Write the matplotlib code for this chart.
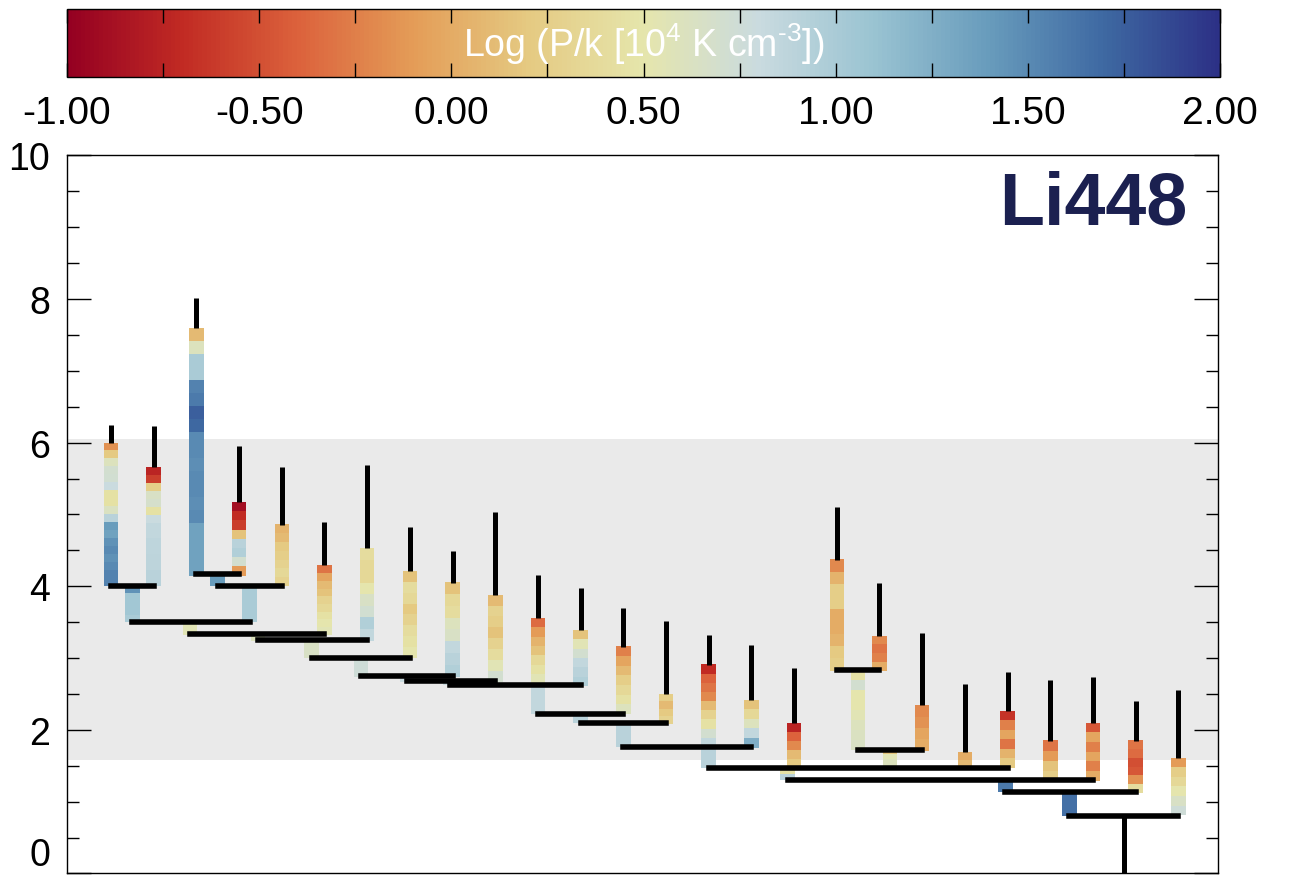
import numpy as np
import matplotlib
matplotlib.use('Agg')
import matplotlib.pyplot as plt
from matplotlib.colors import Normalize, ListedColormap
from matplotlib.ticker import MultipleLocator

plt.rcParams['font.family'] = ['Liberation Sans', 'DejaVu Sans']
plt.rcParams['mathtext.fontset'] = 'custom'
plt.rcParams['mathtext.rm'] = 'Liberation Sans'

# ---------------- data ----------------
# leaves: base (merge level), top of coloured part, top of black stem
leaf_base = [4.0, 4.0, 4.15, 4.15, 4.0, 3.32, 3.24, 3.0, 2.74, 2.67, 2.64, 2.61, 2.22,
             2.08, 1.76, 1.75, 1.47, 2.82, 2.82, 1.71, 1.47, 1.47, 1.29, 1.29, 1.12, 0.81]
leaf_ctop = [6.0, 5.66, 7.6, 5.17, 4.86, 4.29, 4.53, 4.21, 4.05, 3.88, 3.56, 3.39, 3.16,
             2.5, 2.91, 2.42, 2.1, 4.37, 3.31, 2.34, 1.69, 2.26, 1.85, 2.1, 1.85, 1.61]
leaf_top = [6.24, 6.23, 8.02, 5.95, 5.66, 4.89, 5.69, 4.82, 4.49, 5.04, 4.16, 3.98, 3.7,
            3.52, 3.32, 3.18, 2.86, 5.1, 4.05, 3.35, 2.64, 2.8, 2.69, 2.74, 2.4, 2.55]
# log P/k along each leaf, listed from top to bottom
leaf_logp = [
    [-0.15, 0.2, 0.6, 0.7, 0.72, 0.8, 0.45, 0.45, 0.62, 0.9, 1.4, 1.35, 1.45, 1.5, 1.45, 1.5, 1.55, 1.55],
    [-0.75, -0.6, 0.25, 0.65, 0.68, 0.45, 0.8, 0.85, 0.85, 0.87, 0.87, 0.88, 0.88, 0.9, 0.9],
    [0.1, 0.6, 1.0, 1.0, 1.55, 1.6, 1.75, 1.7, 1.5, 1.5, 1.48, 1.5, 1.5, 1.48, 1.5, 1.35, 1.35, 1.35, 1.35],
    [-0.9, -0.7, -0.6, 0.15, 0.9, 0.95, 0.7, -0.1],
    [0.05, 0.1, 0.2, 0.25, 0.3, 0.35, 0.3],
    [-0.3, -0.05, 0.1, 0.15, 0.3, 0.35, 0.45, 0.5, 0.55],
    [0.4, 0.35, 0.35, 0.5, 0.65, 0.72, 0.95, 0.85],
    [0.15, 0.4, 0.35, 0.2, 0.3, 0.4, 0.45, 0.5],
    [0.15, 0.35, 0.4, 0.6, 0.65, 0.85, 0.9, 0.95],
    [0.1, 0.3, 0.25, 0.15, 0.3, 0.4, 0.55, 0.7],
    [-0.35, -0.1, 0.05, 0.15, 0.35, 0.45, 0.55],
    [0.15, 0.55, 0.7, 0.85, 0.9, 0.95],
    [-0.25, -0.05, 0.1, 0.25, 0.35, 0.45, 0.6],
    [0.25, 0.1, 0.2, 0.3],
    [-0.7, -0.4, -0.3, -0.2, 0.1, 0.3, 0.45, 0.7, 0.85],
    [0.15, 0.35, 0.6, 0.85, 1.25],
    [-0.75, -0.4, -0.2, 0.1, 0.2],
    [-0.2, 0.05, 0.25, 0.25, 0.0, 0.0, 0.05, 0.2, 0.25],
    [-0.2, -0.3, -0.25, 0.0],
    [-0.2, -0.15, -0.05, 0.0],
    [0.0, 0.1],
    [-0.65, -0.25, -0.05, -0.3, 0.05, 0.2],
    [-0.3, -0.1, 0.15, 0.25],
    [-0.45, -0.05, -0.25, -0.05, -0.25, 0.0],
    [-0.3, -0.35, -0.5, -0.45, -0.15, 0.4],
    [-0.1, 0.25, 0.35, 0.5, 0.65, 0.75],
]

# branches: position (in leaf units), lower and upper level, log P/k top to bottom
branch_x = [0.5, 2.5, 3.25, 1.85, 3.44, 4.7, 5.86, 6.93, 7.95, 9.0, 10.0, 11.0, 12.0,
            13.0, 14.0, 17.5, 18.25, 17.65, 19.35, 20.47, 15.85, 18.9, 20.95, 22.45]
branch_lo = [3.5, 4.0, 3.5, 3.32, 3.24, 3.0, 2.74, 2.67, 2.62, 2.60, 2.22, 2.1, 1.76,
             1.74, 1.47, 1.72, 1.47, 1.45, 1.45, 1.45, 1.3, 1.28, 1.13, 0.8]
branch_hi = [4.0, 4.17, 4.0, 3.5, 3.33, 3.25, 3.0, 2.75, 2.68, 2.64, 2.63, 2.22, 2.1,
             1.77, 1.76, 2.83, 1.72, 1.49, 1.49, 1.49, 1.47, 1.32, 1.3, 1.13]
branch_logp = [
    [1.45, 1.05, 1.05, 1.05, 1.0], [1.4], [1.0, 1.0], [0.55], [0.6], [0.65], [0.75],
    [0.8], [0.8], [0.75], [0.85], [0.9], [0.9], [0.85], [0.9],
    [0.45, 0.7, 0.5, 0.5, 0.55, 0.6, 0.62, 0.65], [0.15, 0.55, 0.6, 0.6],
    [0.3], [0.3], [0.3], [0.45, 0.9], [1.1], [1.6], [1.65],
]

# horizontal links: level and span (leaf units)
link_y = [4.0, 4.17, 4.0, 3.5, 3.33, 3.25, 3.0, 2.75, 2.68, 2.63, 2.22, 2.1, 1.76,
          2.83, 1.72, 1.47, 1.3, 1.13, 0.8]
link_x0 = [0, 2, 2.5, 0.5, 1.85, 3.44, 4.7, 5.86, 6.93, 7.95, 10, 11, 12,
           17, 17.5, 14, 15.85, 20.95, 22.45]
link_x1 = [1, 3, 4, 3.25, 5, 6, 7, 8, 9, 11, 12, 13, 15,
           18, 19, 21, 23, 24, 25]

trunk_x = 23.73
trunk_top = 0.8

band_lo, band_hi = 1.58, 6.05
cbar_range = (-1.0, 2.0)
cbar_major = [-1.0, -0.5, 0.0, 0.5, 1.0, 1.5, 2.0]
cbar_labels = ['-1.00', '-0.50', '0.00', '0.50', '1.00', '1.50', '2.00']
cbar_minor = [-0.75, -0.25, 0.25, 0.75, 1.25, 1.75]

# ---------------- figure ----------------
fig = plt.figure(figsize=(12.94, 8.78), dpi=100)
ax = fig.add_axes([0.0518, 0.004, 0.8895, 0.8178])
cax = fig.add_axes([0.0518, 0.911, 0.891, 0.0774])

base = plt.get_cmap('RdYlBu')(np.linspace(0, 1, 256))
base[:, :3] *= 0.9
cmap = ListedColormap(base)
norm = Normalize(*cbar_range)

ax.axhspan(band_lo, band_hi, color='#eaeaea', lw=0, zorder=0)

W = 0.34


def column(x, lo, hi, vals):
    n = len(vals)
    h = (hi - lo) / n
    bottoms = [hi - (k + 1) * h for k in range(n)]
    ax.bar([x] * n, [h * 1.02] * n, bottom=bottoms, width=W,
           color=[cmap(norm(v)) for v in vals], linewidth=0, zorder=2)


for i in range(len(leaf_base)):
    column(i, leaf_base[i], leaf_ctop[i], leaf_logp[i])
    ax.vlines(i, leaf_ctop[i], leaf_top[i], color='k', lw=3.6, zorder=3)

for x, lo, hi, vals in zip(branch_x, branch_lo, branch_hi, branch_logp):
    column(x, lo, hi, vals)

ax.hlines(link_y, link_x0, link_x1, color='k', lw=4.0, zorder=3,
          capstyle='projecting')
ax.vlines(trunk_x, 0, trunk_top, color='k', lw=3.6, zorder=3)

ax.set_xlim(-1.03, 25.93)
ax.set_ylim(0, 10)
ax.yaxis.set_major_locator(MultipleLocator(2))
ax.yaxis.set_minor_locator(MultipleLocator(0.5))
ax.tick_params(axis='y', which='major', direction='in', left=True, right=True,
               length=17, width=1, labelsize=27, pad=12)
ax.tick_params(axis='y', which='minor', direction='in', left=True, right=True,
               length=8.5, width=1)
ax.tick_params(axis='x', which='both', bottom=False, top=False, labelbottom=False)
for sp in ax.spines.values():
    sp.set_linewidth(1.0)
fig.canvas.draw()
for lab in ax.get_yticklabels():
    if lab.get_text() == '0':
        lab.set_va('bottom')

ax.text(23.0, 9.32, 'Li448', ha='center', va='center', fontsize=53,
        fontweight='bold', family=['Liberation Sans Narrow', 'Liberation Sans'],
        color='#1b2050', zorder=5)

# colorbar
sm = plt.cm.ScalarMappable(norm=norm, cmap=cmap)
cb = fig.colorbar(sm, cax=cax, orientation='horizontal')
cb.outline.set_linewidth(1.0)
cax.set_xticks(cbar_major)
cax.set_xticklabels(cbar_labels)
cax.set_xticks(cbar_minor, minor=True)
cax.tick_params(which='both', direction='in', top=True, bottom=True, length=10,
                width=1, color='k')
cax.tick_params(which='major', labelsize=28, pad=13)
cax.text(0.5, 0.5, r'Log (P/k [10$^{\text{4}}$ K cm$^{\text{-3}}$])', transform=cax.transAxes,
         ha='center', va='center', color='white', fontsize=27)

fig.savefig('out.png', dpi=100)
